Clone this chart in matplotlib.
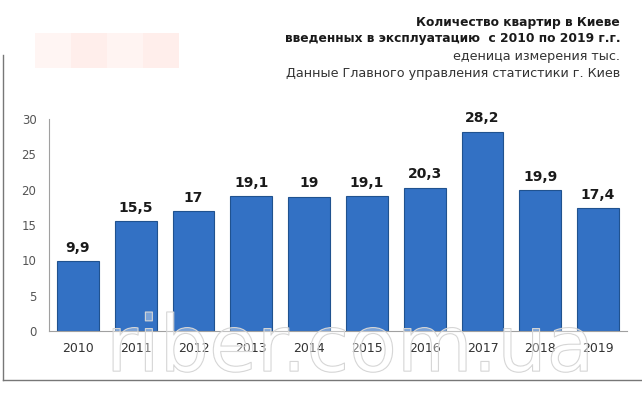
import matplotlib.pyplot as plt
import matplotlib.patheffects as pe
from matplotlib.patches import Rectangle

# данные
years = ['2010', '2011', '2012', '2013', '2014', '2015', '2016', '2017', '2018', '2019']
values = [9.9, 15.5, 17, 19.1, 19, 19.1, 20.3, 28.2, 19.9, 17.4]
labels = ['9,9', '15,5', '17', '19,1', '19', '19,1', '20,3', '28,2', '19,9', '17,4']
y_ticks = [0, 5, 10, 15, 20, 25, 30]

fig = plt.figure(figsize=(6.42, 3.93), dpi=100)
ax = fig.add_axes([49 / 642, 62 / 393, 578 / 642, 212 / 393])

x = range(len(years))
ax.bar(x, values, width=0.72, color='#3371c4', edgecolor='#20528f', linewidth=0.8, zorder=2)

for i, v in enumerate(values):
    ax.text(i, v + 0.9, labels[i], ha='center', va='bottom', fontsize=10,
            fontweight='bold', color='#1a1a1a')

ax.set_xlim(-0.5, len(years) - 0.5)
ax.set_ylim(0, 30)
ax.set_xticks(list(x))
ax.set_xticklabels(years, fontsize=9, color='#333333')
ax.set_yticks(y_ticks)
ax.set_yticklabels([str(t) for t in y_ticks], fontsize=8.5, color='#555555')
ax.tick_params(length=0, pad=8)
ax.tick_params(axis='y', pad=9)
for s in ['top', 'right']:
    ax.spines[s].set_visible(False)
ax.spines['left'].set_color('#a0a0a0')
ax.spines['bottom'].set_color('#a0a0a0')

# заголовок
fig.text(0.966, 0.935, 'Количество квартир в Киеве', ha='right', fontsize=8.8,
         fontweight='bold', color='#1a1a1a')
fig.text(0.966, 0.892, 'введенных в эксплуатацию  с 2010 по 2019 г.г.', ha='right',
         fontsize=8.8, fontweight='bold', color='#1a1a1a')
fig.text(0.966, 0.848, 'еденица измерения тыс.', ha='right', fontsize=9.2, color='#333333')
fig.text(0.966, 0.803, 'Данные Главного управления статистики г. Киев', ha='right',
         fontsize=9.2, color='#333333')

# рамка
fig.add_artist(plt.Line2D([3 / 642, 3 / 642], [13 / 393, 338 / 393], color='#777777', lw=1))
fig.add_artist(plt.Line2D([3 / 642, 1], [13 / 393, 13 / 393], color='#777777', lw=1))

# бледные розовые блоки
for x0, c in [(35, '#fff5f3'), (71, '#ffeeeb'), (107, '#fff4f2'), (143, '#ffeeeb')]:
    fig.add_artist(Rectangle((x0 / 642, 325 / 393), 36 / 642, 35 / 393,
                             transform=fig.transFigure, color=c, lw=0))

# водяной знак
fig.text(0.545, 0.015, 'riber.com.ua', ha='center', va='bottom', fontsize=56,
         color=(1, 1, 1, 0.2),
         path_effects=[pe.withStroke(linewidth=0.8, foreground='#d2d2d2')])

fig.savefig('out.png', dpi=100)
